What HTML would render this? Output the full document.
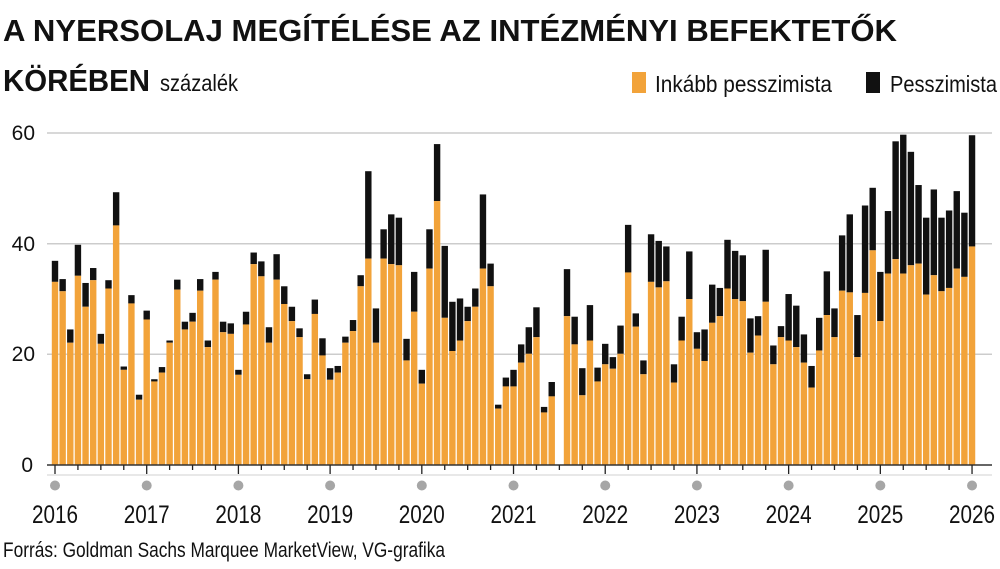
<!DOCTYPE html>
<html><head><meta charset="utf-8"><style>
html,body{margin:0;padding:0;background:#fff;}
svg{display:block;font-family:"Liberation Sans Narrow","Liberation Sans",sans-serif;}
</style></head><body>
<svg id="c" width="1000" height="569" viewBox="0 0 1000 569" xmlns="http://www.w3.org/2000/svg">
<text x="3" y="41" font-size="31" font-weight="bold" textLength="894" lengthAdjust="spacingAndGlyphs" fill="#111">A NYERSOLAJ MEGÍTÉLÉSE AZ INTÉZMÉNYI BEFEKTETŐK</text>
<text x="3" y="91" font-size="31" font-weight="bold" textLength="147" lengthAdjust="spacingAndGlyphs" fill="#111">KÖRÉBEN</text>
<text x="160" y="91" font-size="23" textLength="78" lengthAdjust="spacingAndGlyphs" fill="#111">százalék</text>
<rect x="632" y="72" width="14" height="21" fill="#f2a33a"/>
<text x="655" y="92" font-size="23" textLength="177" lengthAdjust="spacingAndGlyphs" fill="#111">Inkább pesszimista</text>
<rect x="866" y="72" width="14" height="21" fill="#111"/>
<text x="890" y="92" font-size="23" textLength="107" lengthAdjust="spacingAndGlyphs" fill="#111">Pesszimista</text>
<g stroke="#cccccc" stroke-width="1.5">
<line x1="47" y1="133" x2="992" y2="133"/>
<line x1="47" y1="243.7" x2="992" y2="243.7"/>
<line x1="47" y1="354.3" x2="992" y2="354.3"/>
<line x1="47" y1="475" x2="992" y2="475" stroke="#e0e0e0"/>
</g>
<g font-size="21" fill="#111" text-anchor="end">
<text x="35" y="140">60</text>
<text x="35" y="251">40</text>
<text x="35" y="361">20</text>
<text x="33" y="472">0</text>
</g>
<g id="bars"></g>
<line x1="47" y1="465" x2="992" y2="465" stroke="#333" stroke-width="1.5"/>
<g id="ticks" stroke="#222" stroke-width="1.3"></g>
<g id="dots" fill="#a6a6a6"></g>
<g font-size="25" fill="#111">
<text x="32" y="523" textLength="46" lengthAdjust="spacingAndGlyphs">2016</text><text x="123.7" y="523" textLength="46" lengthAdjust="spacingAndGlyphs">2017</text><text x="215.4" y="523" textLength="46" lengthAdjust="spacingAndGlyphs">2018</text><text x="307.1" y="523" textLength="46" lengthAdjust="spacingAndGlyphs">2019</text><text x="398.8" y="523" textLength="46" lengthAdjust="spacingAndGlyphs">2020</text><text x="490.5" y="523" textLength="46" lengthAdjust="spacingAndGlyphs">2021</text><text x="582.2" y="523" textLength="46" lengthAdjust="spacingAndGlyphs">2022</text><text x="673.9" y="523" textLength="46" lengthAdjust="spacingAndGlyphs">2023</text><text x="765.6" y="523" textLength="46" lengthAdjust="spacingAndGlyphs">2024</text><text x="857.3" y="523" textLength="46" lengthAdjust="spacingAndGlyphs">2025</text><text x="949" y="523" textLength="46" lengthAdjust="spacingAndGlyphs">2026</text>
</g>
<text x="3" y="557" font-size="21" fill="#111" textLength="442" lengthAdjust="spacingAndGlyphs">Forrás: Goldman Sachs Marquee MarketView, VG-grafika</text>
</svg>
<script>
var d=[[36.9,33.1],[33.6,31.4],[24.5,22.1],[39.8,34.2],[32.9,28.6],[35.6,33.4],[23.7,21.9],[33.4,31.9],[49.3,43.3],[17.8,17.2],[30.7,29.2],[12.7,11.8],[27.9,26.3],[15.5,15.1],[17.7,16.7],[22.5,22.1],[33.5,31.7],[25.9,24.5],[27.5,25.9],[33.6,31.5],[22.5,21.3],[34.9,33.5],[25.9,24],[25.6,23.7],[17.2,16.3],[27.7,25.4],[38.4,36.3],[36.8,34.1],[24.9,22.1],[38.1,33.5],[32.3,29.1],[28.6,26.0],[24.7,23.1],[16.4,15.5],[29.9,27.3],[22.9,19.8],[17.5,15.4],[17.9,16.7],[23.2,22.1],[26.2,24.2],[34.3,32.3],[53.1,37.3],[28.3,22.1],[42.6,37.3],[45.3,36.3],[44.7,36.1],[22.8,18.9],[34.9,27.7],[17.2,14.7],[42.6,35.5],[58.0,47.7],[39.6,26.6],[29.5,20.6],[30.1,22.5],[28.6,26.0],[31.9,28.6],[48.9,35.5],[36.4,32.3],[10.9,10.2],[15.8,14.2],[17.2,14.2],[21.8,18.5],[24.9,20.1],[28.5,23.1],[10.5,9.5],[15.0,12.4],[0,0],[35.4,26.9],[26.8,21.8],[17.5,12.6],[28.9,22.5],[17.6,15.1],[21.9,18.2],[19.5,17.4],[25.2,20.1],[43.4,34.8],[27.4,25.0],[18.9,16.4],[41.7,33.1],[40.5,32.1],[39.5,33.2],[18.2,14.9],[26.8,22.5],[38.6,30.0],[24.0,21.0],[24.5,18.8],[32.6,25.7],[32.0,26.9],[40.7,31.9],[38.7,30.0],[37.9,29.6],[26.5,20.3],[26.9,23.4],[38.9,29.5],[21.6,18.2],[25.1,23.1],[30.9,22.5],[28.8,21.3],[23.6,18.5],[17.9,14.0],[26.6,20.7],[35.0,27.1],[28.3,23.1],[41.5,31.5],[45.3,31.2],[27.1,19.5],[46.9,31.1],[50.1,38.8],[34.9,26.0],[45.9,34.6],[58.5,37.2],[59.7,34.6],[56.6,36.1],[50.6,36.4],[44.7,30.8],[49.8,34.3],[44.7,31.4],[46.0,32.0],[49.5,35.5],[45.6,34.0],[59.6,39.5]];
var ns="http://www.w3.org/2000/svg",B=document.getElementById("bars"),T=document.getElementById("ticks"),D=document.getElementById("dots");
var k=5.533,base=465,sp=7.642,w=6.4;
function el(p,t,a){var e=document.createElementNS(ns,t);for(var n in a)e.setAttribute(n,a[n]);p.appendChild(e);}
d.forEach(function(v,i){var cx=55+i*sp;if(v[0]>0){
el(B,"rect",{x:cx-w/2,y:base-v[0]*k,width:w,height:(v[0]-v[1])*k,fill:"#111"});
el(B,"rect",{x:cx-w/2,y:base-v[1]*k,width:w,height:v[1]*k,fill:"#f2a33a"});}
if(i%3==0){el(T,"line",{x1:cx,y1:465,x2:cx,y2:(i%12==0?474:470)});}
if(i%12==0){el(D,"circle",{cx:cx,cy:485.5,r:5});}
});
</script>
</body></html>
